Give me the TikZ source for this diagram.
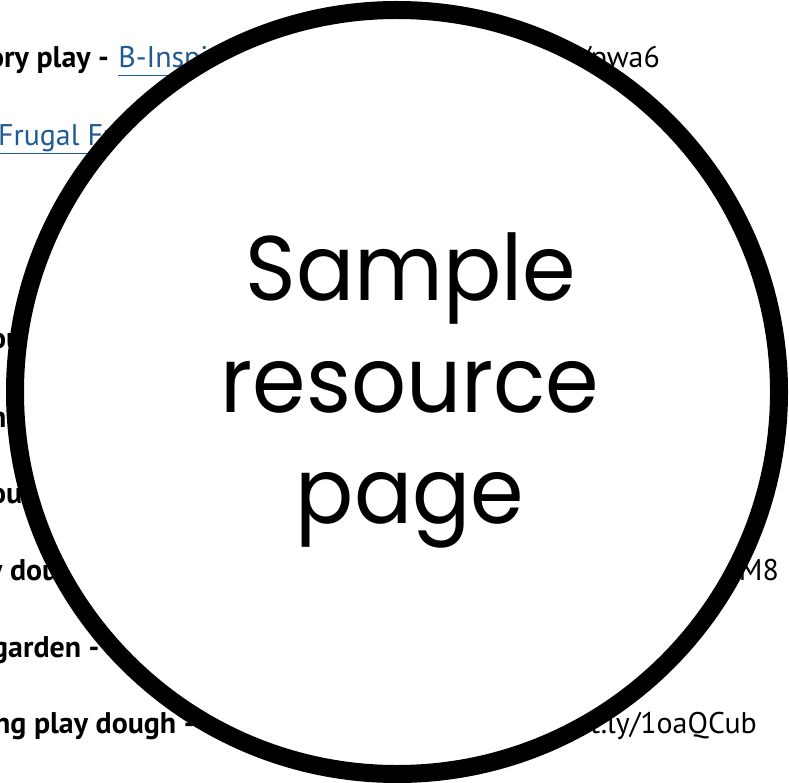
\documentclass[tikz,border=0pt]{standalone}
\usepackage{fontspec}
\setmainfont{PT Sans}
\newfontfamily\handfont[FakeStretch=0.94]{Poppins}
\usetikzlibrary{positioning}

\definecolor{linkblue}{HTML}{1F5A96}

\begin{document}
\begin{tikzpicture}[
    x=1bp, y=-1bp,
    item/.style={anchor=base west, inner sep=0pt, font=\fontsize{30}{36}\selectfont\bfseries},
    link/.style={anchor=base west, inner sep=0pt, font=\fontsize{30}{36}\selectfont, text=linkblue},
    url/.style={anchor=base east, inner sep=0pt, font=\fontsize{30}{36}\selectfont},
    badge/.style={circle, draw=black, fill=white, line width=18bp, inner sep=0pt, minimum size=764bp},
    title/.style={anchor=base, inner sep=0pt, font=\handfont\fontsize{92}{110}\selectfont}
]
\useasboundingbox (0,0) rectangle (789,783);

% ==== Page behind the stamp ====
\node[item] (sensory) at (-12,68) {ory play -};
\node[link, right=9bp of sensory.base east, anchor=base west] (binspired) {\underline{B-Inspired}};
\node[url] (pwa) at (660,68) {/pwa6};
\node[link] (frugal) at (-2,145) {\underline{Frugal Fun}};
\node[item] (rowa) at (-10,348) {ou};
\node[item] (rowb) at (-10,427) {h};
\node[item] (rowc) at (-10,503) {ou};
\node[item] (rowd) at (-12,580) {y dough};
\node[url] (meight) at (779,580) {M8};
\node[item] (garden) at (-8,657) {garden -};
\node[item] (dough) at (-6,733) {ng play dough -};
\node[url] (bitly) at (757,733) {t.ly/1oaQCub};

% ==== Stamp ====
\node[badge] (stamp) at (397,392) {};
\node[title] (sample) at (411,300) {Sample};
\node[title] (resource) at (410,412) {resource};
\node[title] (page) at (410,523) {page};

\end{tikzpicture}
\end{document}
